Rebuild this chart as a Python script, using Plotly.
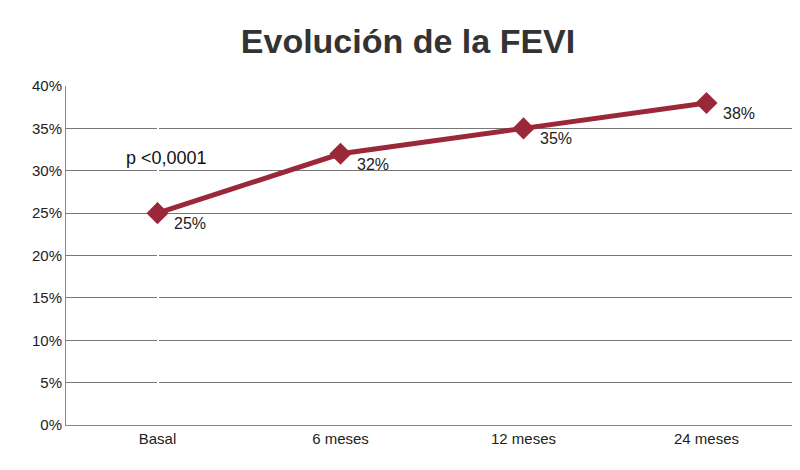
import plotly.graph_objects as go

categorias = ["Basal", "6 meses", "12 meses", "24 meses"]
fevi = [25, 32, 35, 38]
etiquetas = ["25%", "32%", "35%", "38%"]

fig = go.Figure()
fig.add_trace(go.Scatter(
    x=list(range(len(categorias))),
    y=fevi,
    mode="lines+markers",
    line=dict(color="#9b2838", width=5),
    marker=dict(symbol="diamond", size=17, color="#9b2838"),
    showlegend=False,
))
for i, (v, t) in enumerate(zip(fevi, etiquetas)):
    fig.add_annotation(x=i, y=v, text=t, showarrow=False, xanchor="left", yanchor="top",
                       xshift=14, yshift=0, font=dict(size=16, color="#222"))

fig.add_annotation(x=0.05, y=31.5, text="p <0,0001", showarrow=False,
                   font=dict(size=18, color="#111"))

fig.update_layout(
    title=dict(text="<b>Evolución de la FEVI</b>", x=0.5, y=0.955, xanchor="center",
               font=dict(size=34, color="#333", family="Liberation Sans")),
    width=800, height=470,
    margin=dict(l=58, r=10, t=78, b=53),
    plot_bgcolor="white", paper_bgcolor="white",
    font=dict(family="Liberation Sans", color="#222", size=15),
    xaxis=dict(tickvals=list(range(len(categorias))), ticktext=categorias,
               range=[-0.5, 3.5], showgrid=False, showline=True, linecolor="#888",
               ticks="", tickfont=dict(size=15)),
    yaxis=dict(range=[0, 40], dtick=5, ticksuffix="%", showgrid=True, gridcolor="#777",
               gridwidth=1.2, showline=True, linecolor="#888", zeroline=False,
               tickfont=dict(size=15)),
)

fig.write_html("out.html")
